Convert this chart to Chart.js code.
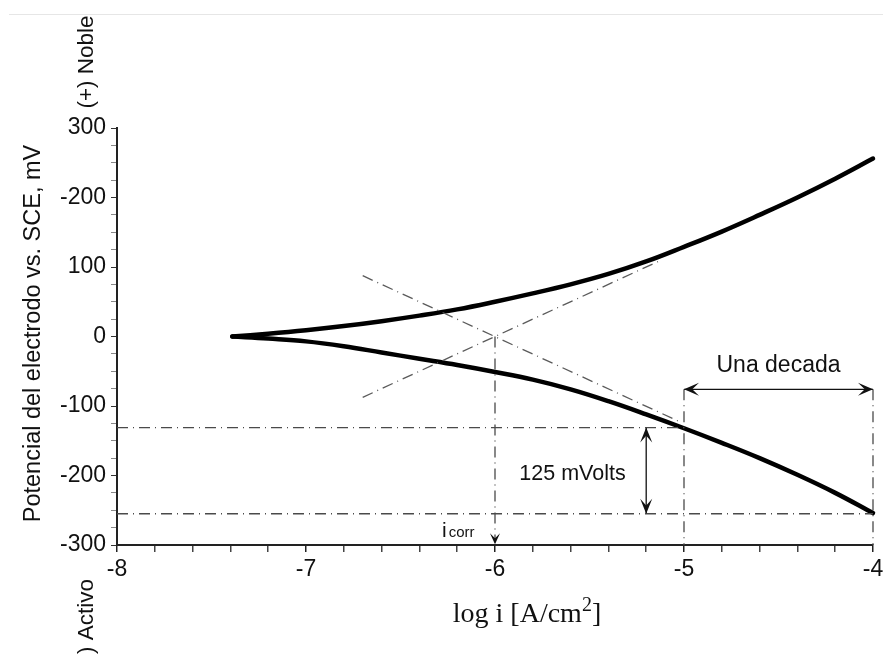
<!DOCTYPE html>
<html>
<head>
<meta charset="utf-8">
<script src="https://cdn.jsdelivr.net/npm/chart.js@4.4.0/dist/chart.umd.min.js"></script>
<style>
  html, body { margin: 0; padding: 0; background: #fff; }
  #wrap { position: relative; width: 883px; height: 655px; }
  #topline { position: absolute; left: 9px; right: 0; top: 14px; border-top: 1px solid #e6e6e6; }
</style>
</head>
<body>
<div id="wrap">
  <canvas id="chart" width="883" height="655"></canvas>
  <div id="topline"></div>
</div>
<script>
// log i [A/cm2] and potencial (mV) for both branches
const logI     = [-7.39, -7.2, -7.0, -6.8, -6.6, -6.4, -6.2, -6.0, -5.8, -5.6, -5.4, -5.2, -5.0, -4.8, -4.6, -4.4, -4.2, -4.0];
const anodic   = [0, 4, 9, 15, 22, 30, 39, 50, 62, 75, 90, 108, 129, 151, 175, 200, 227, 256];
const cathodic = [0, -3, -7, -14, -23, -32, -41, -51, -62, -76, -93, -112, -132, -153, -175, -199, -225, -254];

// tick labels (the "-200" at the top is as in the original)
const yTickValues = [-300, -200, -100, 0, 100, 200, 300];
const yTickLabels = ['-300', '-200', '-100', '0', '100', '-200', '300'];
const xTickValues = [-8, -7, -6, -5, -4];
const xTickLabels = ['-8', '-7', '-6', '-5', '-4'];

// construction lines [log i, mV]
const tafelAnodic   = [[-6.7, -87.5], [-5.12, 110]];
const tafelCathodic = [[-6.7, 87.5], [-5.02, -123]];
const levelTop      = [[-8, -131], [-5, -131]];
const levelBottom   = [[-8, -255], [-4, -255]];
const decadeLeft    = [[-5, -76], [-5, -300]];
const decadeRight   = [[-4, -76], [-4, -300]];
const corrLine      = [[-6, 0], [-6, -296]];
const decadeArrow   = [[-5, -76], [-4, -76]];
const mvArrow       = [[-5.2, -131], [-5.2, -255]];

const SANS = "'Liberation Sans', Arial, sans-serif";
const SERIF = "'Liberation Serif', 'Times New Roman', serif";
const DASHDOT = [11, 5, 1, 5];

function pts(arr) { return arr.map(p => ({ x: p[0], y: p[1] })); }

function seg(arr, dash, color, width) {
    return {
        data: pts(arr),
        borderColor: color,
        borderWidth: width,
        borderDash: dash,
        pointRadius: 0,
        tension: 0,
        fill: false,
        clip: false
    };
}

function curve(values) {
    return {
        data: logI.map((x, i) => ({ x: x, y: values[i] })),
        borderColor: '#000',
        borderWidth: 4.5,
        borderCapStyle: 'round',
        borderJoinStyle: 'round',
        pointRadius: 0,
        tension: 0.4,
        fill: false,
        clip: false
    };
}

function arrowHead(ctx, x, y, dir, len, wid) {
    ctx.save();
    ctx.translate(x, y);
    ctx.rotate(dir);
    ctx.beginPath();
    ctx.moveTo(0, 0);
    ctx.lineTo(-len, -wid / 2);
    ctx.lineTo(-len * 0.55, 0);
    ctx.lineTo(-len, wid / 2);
    ctx.closePath();
    ctx.fill();
    ctx.restore();
}

const annotations = {
    id: 'annotations',
    afterDatasetsDraw(chart) {
        const ctx = chart.ctx;
        const xs = chart.scales.x, ys = chart.scales.y;
        const area = chart.chartArea;
        const px = v => xs.getPixelForValue(v);
        const py = v => ys.getPixelForValue(v);
        ctx.save();
        ctx.fillStyle = '#111';

        // arrow heads
        arrowHead(ctx, px(decadeArrow[0][0]), py(decadeArrow[0][1]), Math.PI, 15, 13);
        arrowHead(ctx, px(decadeArrow[1][0]), py(decadeArrow[1][1]), 0, 15, 13);
        arrowHead(ctx, px(mvArrow[0][0]), py(mvArrow[0][1]), -Math.PI / 2, 15, 12);
        arrowHead(ctx, px(mvArrow[1][0]), py(mvArrow[1][1]), Math.PI / 2, 15, 12);
        arrowHead(ctx, px(corrLine[1][0]), py(corrLine[1][1]) + 2, Math.PI / 2, 11, 10);

        // labels inside the plot
        ctx.textBaseline = 'middle';
        ctx.textAlign = 'center';
        ctx.font = '23px ' + SANS;
        ctx.fillText('Una decada', px(-4.5), py(-42));
        ctx.font = '21.5px ' + SANS;
        ctx.fillText('125 mVolts', px(-5.59), py(-198));

        ctx.textBaseline = 'alphabetic';
        ctx.textAlign = 'left';
        ctx.font = '21px ' + SANS;
        const ix = px(-6.28), iy = py(-289);
        ctx.fillText('i', ix, iy);
        const iw = ctx.measureText('i').width;
        ctx.font = '15px ' + SANS;
        ctx.fillText('corr', ix + iw + 2, iy);

        // x title
        ctx.font = '28px ' + SERIF;
        const t1 = 'log i [A/cm';
        const w1 = ctx.measureText(t1).width;
        ctx.font = '20px ' + SERIF;
        const w2 = ctx.measureText('2').width;
        ctx.font = '28px ' + SERIF;
        const w3 = ctx.measureText(']').width;
        let tx = (area.left + area.right) / 2 + 32 - (w1 + w2 + w3) / 2;
        const ty = 622;
        ctx.fillText(t1, tx, ty);
        ctx.font = '20px ' + SERIF;
        ctx.fillText('2', tx + w1, ty - 11);
        ctx.font = '28px ' + SERIF;
        ctx.fillText(']', tx + w1 + w2, ty);

        // y title and side notes
        ctx.textAlign = 'center';
        ctx.textBaseline = 'middle';
        const vtext = (s, x, y) => {
            ctx.save();
            ctx.translate(x, y);
            ctx.rotate(-Math.PI / 2);
            ctx.fillText(s, 0, 0);
            ctx.restore();
        };
        ctx.font = '23.5px ' + SANS;
        vtext('Potencial del electrodo vs. SCE, mV', 34, (area.top + area.bottom) / 2 - 3);
        ctx.font = '22.5px ' + SANS;
        vtext('(+) Noble', 87, 62);
        vtext('(-) Activo', 87, 624);
        ctx.restore();
    }
};

const isMajor = (v, list) => list.some(t => Math.abs(t - v) < 1e-6);

new Chart(document.getElementById('chart'), {
    type: 'line',
    data: {
        datasets: [
            seg(tafelAnodic, DASHDOT, '#5a5a5a', 1.3),
            seg(tafelCathodic, DASHDOT, '#5a5a5a', 1.3),
            seg(levelTop, DASHDOT, '#4a4a4a', 1.3),
            seg(levelBottom, DASHDOT, '#4a4a4a', 1.3),
            seg(decadeLeft, DASHDOT, '#4a4a4a', 1.3),
            seg(decadeRight, DASHDOT, '#4a4a4a', 1.3),
            seg(corrLine, DASHDOT, '#4a4a4a', 1.3),
            seg(decadeArrow, [], '#111', 1.3),
            seg(mvArrow, [], '#111', 1.3),
            curve(anodic),
            curve(cathodic)
        ]
    },
    options: {
        responsive: false,
        animation: false,
        devicePixelRatio: 1,
        layout: { padding: { left: 0, right: 10, top: 128, bottom: 0 } },
        plugins: { legend: { display: false }, tooltip: { enabled: false } },
        scales: {
            x: {
                type: 'linear',
                min: -8,
                max: -4,
                afterFit: s => { s.height = 110; s.paddingLeft = 0; s.paddingRight = 0; },
                afterBuildTicks: s => {
                    const t = [];
                    for (let i = 0; i <= 20; i++) t.push({ value: -8 + i * 0.2 });
                    s.ticks = t;
                },
                ticks: {
                    autoSkip: false,
                    maxRotation: 0,
                    padding: 4,
                    color: '#111',
                    font: { family: SANS, size: 23 },
                    callback: v => {
                        const i = xTickValues.findIndex(t => Math.abs(t - v) < 1e-6);
                        return i >= 0 ? xTickLabels[i] : '';
                    }
                },
                grid: {
                    drawOnChartArea: false,
                    tickLength: 7,
                    lineWidth: 1.5,
                    color: c => isMajor(c.tick.value, xTickValues) ? '#222' : '#444'
                },
                border: { display: true, color: '#222', width: 2 }
            },
            y: {
                min: -300,
                max: 300,
                afterFit: s => { s.width = 117; },
                ticks: {
                    stepSize: 25,
                    autoSkip: false,
                    padding: 5,
                    color: '#111',
                    font: { family: SANS, size: 23 },
                    callback: v => {
                        const i = yTickValues.indexOf(v);
                        return i >= 0 ? yTickLabels[i] : '';
                    }
                },
                grid: {
                    drawOnChartArea: false,
                    tickLength: 6,
                    lineWidth: 1,
                    color: c => isMajor(c.tick.value, yTickValues) ? '#333' : '#888'
                },
                border: { display: true, color: '#222', width: 2 }
            }
        }
    },
    plugins: [annotations]
});
</script>
</body>
</html>
